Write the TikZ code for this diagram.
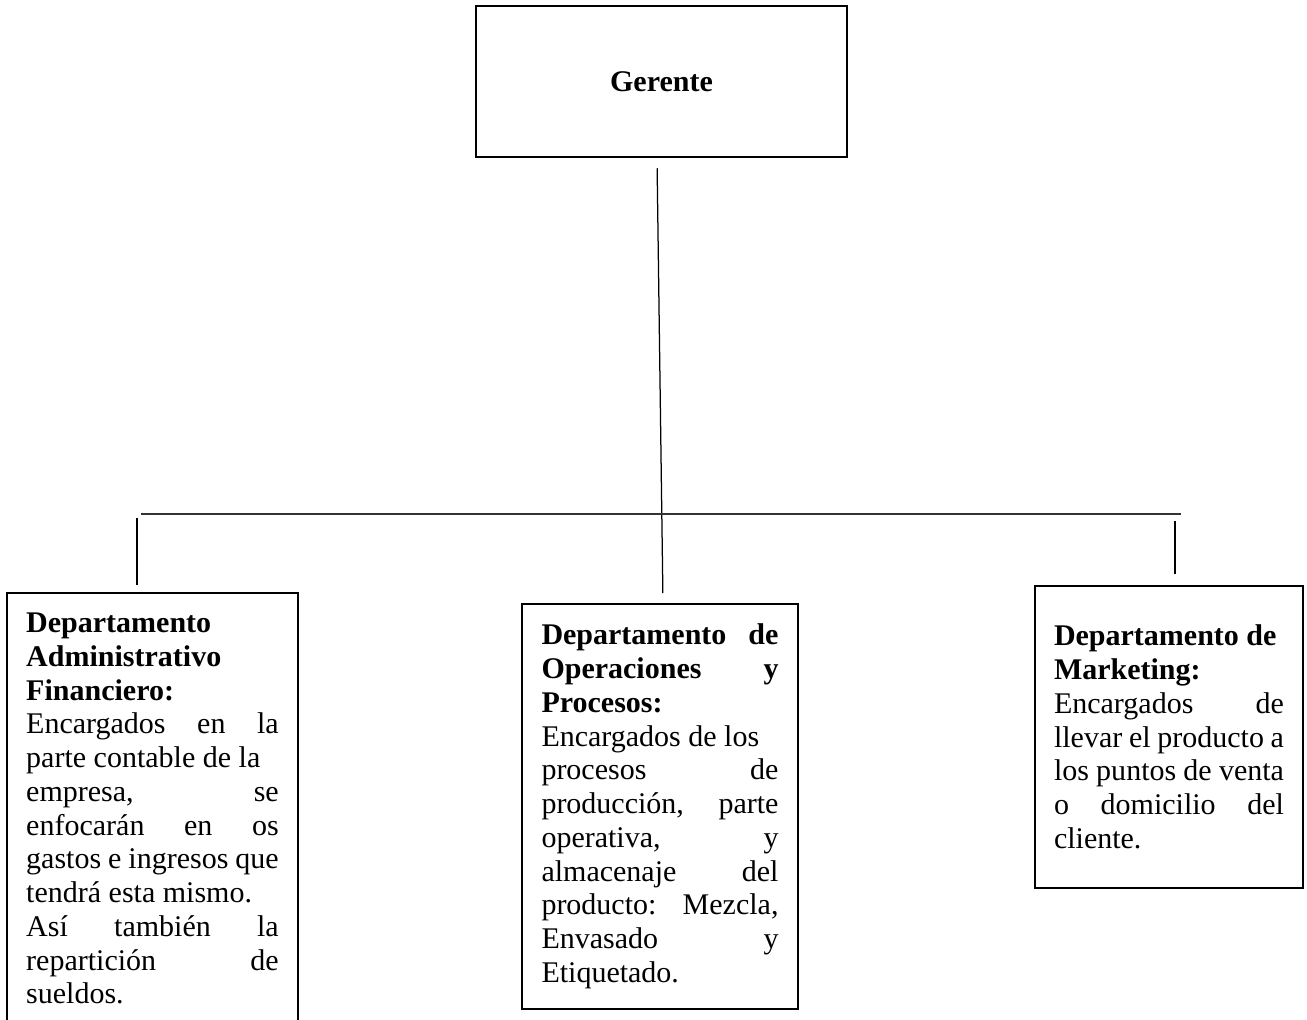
\documentclass[tikz,border=0pt]{standalone}
\usepackage{fontspec}
\setmainfont{Liberation Serif}
\tolerance=10000
\hbadness=10000
\tikzset{
  dept/.style={draw, line width=0.8pt, anchor=north, align=justify, inner xsep=7.7pt, inner ysep=8pt,
    font=\fontsize{12pt}{13.5pt}\selectfont},
  link/.style={line width=0.5pt}
}
\begin{document}
\begin{tikzpicture}[x=0.4pt, y=-0.4pt]
    \path[use as bounding box, fill=white] (0,0) rectangle (1307,1020);
    \clip (0,0) rectangle (1307,1020);
    \node[draw, line width=1pt, minimum width=148.4pt, minimum height=60.4pt, font=\fontsize{12pt}{13.5pt}\selectfont\bfseries] (ger) at (661.5,81.5) {Gerente};
    \node[dept, text width=101pt] (adm) at (152.5,592) {\textbf{Departamento}\newline
      \textbf{Administrativo}\newline
      \textbf{Financiero:}\newline
      Encargados en la\linebreak
      parte contable de la\newline
      empresa, se\linebreak
      enfocarán en os\linebreak
      gastos e ingresos que\linebreak
      tendrá esta mismo.\newline
      Así también la\linebreak
      repartición de\linebreak
      sueldos.};
    \node[dept, text width=94.8pt] (opr) at (660,603) {\textbf{Departamento de}\linebreak
      \textbf{Operaciones y}\linebreak
      \textbf{Procesos:}\newline
      Encargados de los\newline
      procesos de\linebreak
      producción, parte\linebreak
      operativa, y\linebreak
      almacenaje del\linebreak
      producto: Mezcla,\linebreak
      Envasado y\linebreak
      Etiquetado.};
    \node[dept, text width=92pt, minimum height=120.8pt] (mkt) at (1169,585) {\textbf{Departamento de}\newline
      \textbf{Marketing:}\newline
      Encargados de\linebreak
      llevar el producto a\linebreak
      los puntos de venta\linebreak
      o domicilio del\linebreak
      cliente.};
    \coordinate (barL) at (141,514);
    \coordinate (barR) at (1181,514);
    \coordinate (dropL) at (137,518);
    \coordinate (dropR) at (1175,521);
    \draw[link, shorten <=4pt, shorten >=4pt] ([xshift=-1.8pt]ger.south) -- ([xshift=1.2pt]opr.north);
    \draw[line width=0.6pt, black!80] (barL) -- (barR);
    \draw[link, shorten >=2.8pt] (dropL) -- (dropL |- adm.north);
    \draw[link, shorten >=4.4pt] (dropR) -- (dropR |- mkt.north);
\end{tikzpicture}
\end{document}
